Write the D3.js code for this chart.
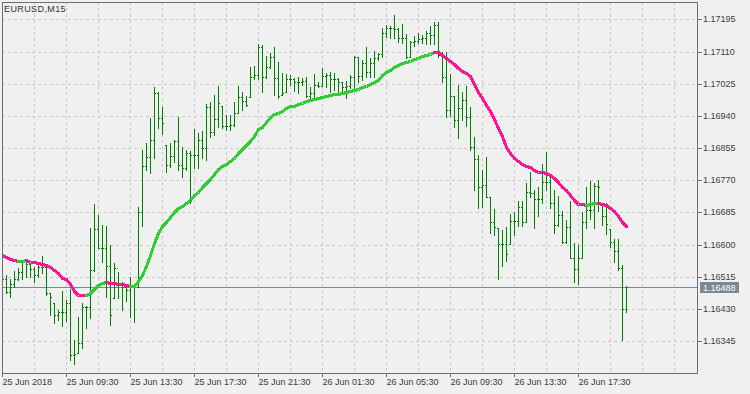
<!DOCTYPE html>
<html>
<head>
<meta charset="utf-8">
<script src="https://cdn.jsdelivr.net/npm/d3@7"></script>
<style>
  html, body { margin: 0; padding: 0; background: #f0f0f0; }
  svg { display: block; }
  text { font-family: "Liberation Sans", Arial, sans-serif; font-size: 9px; fill: #3c3c3c; }
</style>
</head>
<body>
<script>
// Chart title and axis labels
const symbolTitle = 'EURUSD,M15';
const timeLabels = ['25 Jun 2018', '25 Jun 09:30', '25 Jun 13:30', '25 Jun 17:30', '25 Jun 21:30',
  '26 Jun 01:30', '26 Jun 05:30', '26 Jun 09:30', '26 Jun 13:30', '26 Jun 17:30'];
const timeLabelBars = [0, 16, 32, 48, 64, 80, 96, 112, 128, 144];
const priceTicks = [1.17195, 1.17110, 1.17025, 1.16940, 1.16855, 1.16770, 1.16685, 1.16600, 1.16515, 1.16430, 1.16345];
const lastPrice = 1.16488;

// OHLC of the M15 bars, oldest first
const opens = [
  1.16517, 1.16509, 1.16475, 1.16496, 1.16509, 1.16527, 1.16557, 1.16549, 1.16535, 1.16521,
  1.16541, 1.16540, 1.16473, 1.16445, 1.16414, 1.16423, 1.16423, 1.16445, 1.16309, 1.16313,
  1.16340, 1.16436, 1.16436, 1.16533, 1.16641, 1.16592, 1.16592, 1.16544, 1.16459, 1.16539,
  1.16498, 1.16487, 1.16480, 1.16494, 1.16489, 1.16685, 1.16808, 1.16832, 1.16876, 1.17000,
  1.16934, 1.16863, 1.16810, 1.16835, 1.16874, 1.16810, 1.16802, 1.16841, 1.16837, 1.16837,
  1.16876, 1.16855, 1.16963, 1.16897, 1.16932, 1.16966, 1.16913, 1.16913, 1.16916, 1.16947,
  1.16991, 1.16979, 1.16991, 1.17042, 1.17048, 1.17121, 1.17042, 1.17068, 1.17095, 1.17039,
  1.16995, 1.17004, 1.17037, 1.17037, 1.17030, 1.17030, 1.17032, 1.16993, 1.17000, 1.17022,
  1.17020, 1.17046, 1.17048, 1.17037, 1.17037, 1.17029, 1.17015, 1.17020, 1.17043, 1.17096,
  1.17046, 1.17079, 1.17055, 1.17079, 1.17092, 1.17103, 1.17158, 1.17171, 1.17173, 1.17169,
  1.17145, 1.17145, 1.17096, 1.17136, 1.17138, 1.17142, 1.17145, 1.17160, 1.17154, 1.17180,
  1.17101, 1.17043, 1.16956, 1.16993, 1.16929, 1.16960, 1.16982, 1.16936, 1.16859, 1.16825,
  1.16753, 1.16758, 1.16725, 1.16661, 1.16643, 1.16602, 1.16602, 1.16602, 1.16663, 1.16663,
  1.16699, 1.16661, 1.16740, 1.16736, 1.16720, 1.16720, 1.16766, 1.16766, 1.16709, 1.16652,
  1.16678, 1.16608, 1.16646, 1.16564, 1.16535, 1.16564, 1.16661, 1.16692, 1.16692, 1.16755,
  1.16711, 1.16676, 1.16641, 1.16608, 1.16582, 1.16538, 1.16429
];
const highs = [
  1.16525, 1.16520, 1.16509, 1.16531, 1.16538, 1.16560, 1.16560, 1.16551, 1.16540, 1.16551,
  1.16570, 1.16540, 1.16473, 1.16445, 1.16428, 1.16478, 1.16454, 1.16482, 1.16348, 1.16410,
  1.16445, 1.16438, 1.16644, 1.16707, 1.16678, 1.16652, 1.16648, 1.16599, 1.16551, 1.16529,
  1.16501, 1.16489, 1.16515, 1.16494, 1.16700, 1.16850, 1.16868, 1.16934, 1.17016, 1.17004,
  1.16964, 1.16863, 1.16868, 1.16876, 1.16936, 1.16857, 1.16850, 1.16848, 1.16905, 1.16894,
  1.16900, 1.16971, 1.16977, 1.16995, 1.17019, 1.16966, 1.16942, 1.16942, 1.16977, 1.17019,
  1.17004, 1.16993, 1.17070, 1.17072, 1.17130, 1.17127, 1.17098, 1.17105, 1.17123, 1.17083,
  1.17052, 1.17051, 1.17048, 1.17039, 1.17043, 1.17039, 1.17042, 1.17017, 1.17050, 1.17030,
  1.17067, 1.17052, 1.17057, 1.17052, 1.17041, 1.17030, 1.17032, 1.17048, 1.17099, 1.17096,
  1.17088, 1.17123, 1.17092, 1.17111, 1.17105, 1.17173, 1.17180, 1.17178, 1.17206, 1.17173,
  1.17183, 1.17156, 1.17139, 1.17151, 1.17160, 1.17154, 1.17165, 1.17177, 1.17189, 1.17189,
  1.17110, 1.17110, 1.17051, 1.16993, 1.17022, 1.17004, 1.17019, 1.16964, 1.16885, 1.16837,
  1.16797, 1.16832, 1.16725, 1.16693, 1.16643, 1.16639, 1.16646, 1.16681, 1.16686, 1.16714,
  1.16714, 1.16764, 1.16793, 1.16744, 1.16753, 1.16813, 1.16844, 1.16784, 1.16744, 1.16729,
  1.16690, 1.16665, 1.16714, 1.16605, 1.16599, 1.16687, 1.16752, 1.16769, 1.16762, 1.16771,
  1.16711, 1.16709, 1.16641, 1.16614, 1.16614, 1.16546, 1.16491
];
const lows = [
  1.16499, 1.16472, 1.16461, 1.16487, 1.16507, 1.16509, 1.16515, 1.16515, 1.16502, 1.16515,
  1.16524, 1.16467, 1.16414, 1.16394, 1.16401, 1.16384, 1.16397, 1.16296, 1.16284, 1.16313,
  1.16327, 1.16379, 1.16406, 1.16531, 1.16591, 1.16555, 1.16463, 1.16388, 1.16459, 1.16459,
  1.16428, 1.16451, 1.16410, 1.16395, 1.16489, 1.16648, 1.16797, 1.16789, 1.16828, 1.16907,
  1.16892, 1.16793, 1.16806, 1.16819, 1.16797, 1.16778, 1.16797, 1.16711, 1.16802, 1.16802,
  1.16829, 1.16824, 1.16885, 1.16890, 1.16910, 1.16907, 1.16903, 1.16903, 1.16913, 1.16947,
  1.16956, 1.16966, 1.16991, 1.17037, 1.17037, 1.17004, 1.17039, 1.17066, 1.16995, 1.16986,
  1.16995, 1.17004, 1.17022, 1.17007, 1.17000, 1.17022, 1.16991, 1.16986, 1.16991, 1.17017,
  1.17020, 1.17017, 1.17002, 1.17008, 1.17002, 1.17002, 1.16988, 1.17013, 1.17013, 1.17030,
  1.17035, 1.17043, 1.17043, 1.17043, 1.17088, 1.17096, 1.17149, 1.17145, 1.17145, 1.17134,
  1.17132, 1.17094, 1.17096, 1.17125, 1.17133, 1.17132, 1.17130, 1.17130, 1.17130, 1.17096,
  1.17030, 1.16938, 1.16940, 1.16910, 1.16881, 1.16929, 1.16912, 1.16850, 1.16744, 1.16696,
  1.16700, 1.16725, 1.16630, 1.16626, 1.16509, 1.16544, 1.16558, 1.16602, 1.16626, 1.16649,
  1.16649, 1.16661, 1.16725, 1.16643, 1.16676, 1.16709, 1.16744, 1.16696, 1.16632, 1.16649,
  1.16604, 1.16604, 1.16564, 1.16502, 1.16496, 1.16564, 1.16643, 1.16667, 1.16643, 1.16690,
  1.16652, 1.16628, 1.16595, 1.16555, 1.16533, 1.16347, 1.16423
];
const closes = [
  1.16509, 1.16475, 1.16496, 1.16509, 1.16527, 1.16557, 1.16549, 1.16535, 1.16521, 1.16541,
  1.16540, 1.16473, 1.16461, 1.16414, 1.16423, 1.16423, 1.16445, 1.16309, 1.16311, 1.16340,
  1.16436, 1.16436, 1.16533, 1.16641, 1.16592, 1.16592, 1.16544, 1.16414, 1.16539, 1.16498,
  1.16487, 1.16480, 1.16494, 1.16492, 1.16685, 1.16808, 1.16832, 1.16876, 1.17000, 1.16934,
  1.16922, 1.16810, 1.16835, 1.16874, 1.16810, 1.16802, 1.16841, 1.16837, 1.16837, 1.16876,
  1.16855, 1.16963, 1.16897, 1.16932, 1.16973, 1.16913, 1.16913, 1.16916, 1.16947, 1.16991,
  1.16979, 1.16969, 1.17042, 1.17048, 1.17121, 1.17042, 1.17068, 1.17095, 1.17039, 1.16993,
  1.17001, 1.17037, 1.17037, 1.17030, 1.17030, 1.17032, 1.16993, 1.17000, 1.17022, 1.17020,
  1.17046, 1.17048, 1.17037, 1.17037, 1.17029, 1.17015, 1.17020, 1.17043, 1.17096, 1.17046,
  1.17079, 1.17055, 1.17079, 1.17092, 1.17103, 1.17158, 1.17171, 1.17173, 1.17169, 1.17145,
  1.17145, 1.17096, 1.17136, 1.17138, 1.17142, 1.17145, 1.17160, 1.17154, 1.17180, 1.17101,
  1.17043, 1.16956, 1.16993, 1.16929, 1.16960, 1.16982, 1.16936, 1.16859, 1.16825, 1.16753,
  1.16758, 1.16725, 1.16661, 1.16646, 1.16602, 1.16602, 1.16575, 1.16663, 1.16663, 1.16699,
  1.16661, 1.16740, 1.16736, 1.16720, 1.16720, 1.16766, 1.16766, 1.16709, 1.16652, 1.16678,
  1.16608, 1.16646, 1.16564, 1.16535, 1.16564, 1.16661, 1.16692, 1.16692, 1.16755, 1.16753,
  1.16676, 1.16655, 1.16608, 1.16582, 1.16538, 1.16429, 1.16488
];

// Moving average line (green while rising, pink while falling)
const maValues = [
  1.16572, 1.16568, 1.16563, 1.16559, 1.16557, 1.16558, 1.16559, 1.16554, 1.16553, 1.16552,
  1.16550, 1.16545, 1.16540, 1.16532, 1.16524, 1.16511, 1.16509, 1.16495, 1.16478, 1.16468,
  1.16467, 1.16466, 1.16472, 1.16484, 1.16493, 1.16498, 1.16500, 1.16499, 1.16498, 1.16497,
  1.16495, 1.16493, 1.16490, 1.16491, 1.16503, 1.16521, 1.16544, 1.16573, 1.16605, 1.16631,
  1.16650, 1.16661, 1.16672, 1.16685, 1.16696, 1.16703, 1.16710, 1.16719, 1.16730, 1.16740,
  1.16751, 1.16764, 1.16772, 1.16787, 1.16800, 1.16808, 1.16813, 1.16821, 1.16828, 1.16841,
  1.16853, 1.16863, 1.16874, 1.16888, 1.16905, 1.16911, 1.16924, 1.16936, 1.16944, 1.16948,
  1.16954, 1.16960, 1.16965, 1.16967, 1.16972, 1.16975, 1.16978, 1.16981, 1.16984, 1.16987,
  1.16990, 1.16993, 1.16996, 1.16997, 1.16999, 1.17001, 1.17003, 1.17006, 1.17009, 1.17012,
  1.17015, 1.17020, 1.17024, 1.17030, 1.17036, 1.17047, 1.17055, 1.17062, 1.17070, 1.17075,
  1.17080, 1.17082, 1.17085, 1.17089, 1.17093, 1.17097, 1.17100, 1.17103, 1.17109, 1.17108,
  1.17102, 1.17092, 1.17084, 1.17076, 1.17066, 1.17059, 1.17054, 1.17044, 1.17024, 1.17004,
  1.16987, 1.16970, 1.16952, 1.16931, 1.16908, 1.16888, 1.16859, 1.16843, 1.16830, 1.16821,
  1.16814, 1.16808, 1.16804, 1.16797, 1.16793, 1.16791, 1.16789, 1.16785, 1.16775, 1.16765,
  1.16753, 1.16743, 1.16732, 1.16717, 1.16708, 1.16706, 1.16705, 1.16706, 1.16710, 1.16711,
  1.16708, 1.16705, 1.16698, 1.16688, 1.16675, 1.16661, 1.16649
];

// Layout
const width = 750, height = 394;
const plot = { left: 2, right: 697, top: 2, bottom: 373 };
const barStep = 4; // pixels per M15 bar
const colors = {
  bar: '#008000', maUp: '#32cd32', maDown: '#ff1493',
  grid: '#c8c8c8', frame: '#6e6e6e', priceLine: '#778899'
};

const svg = d3.select('body').append('svg')
  .attr('width', width)
  .attr('height', height);

// Scales (rounded so 1px marks stay crisp)
const xScale = d3.scaleLinear()
  .domain([0, (plot.right - plot.left) / barStep])
  .rangeRound([plot.left, plot.right]);

const yScale = d3.scaleLinear()
  .domain([1.17246, 1.16261])
  .rangeRound([0, 373]);

svg.append('clipPath').attr('id', 'plot-clip')
  .append('rect')
  .attr('x', plot.left).attr('y', plot.top)
  .attr('width', plot.right - plot.left + 1)
  .attr('height', plot.bottom - plot.top + 1);

// Grid
const grid = svg.append('g').attr('stroke', colors.grid).attr('stroke-dasharray', '3,3');
grid.selectAll('line.h').data(priceTicks).join('line')
  .attr('class', 'h')
  .attr('x1', plot.left).attr('x2', plot.right)
  .attr('y1', d => yScale(d) + 0.5).attr('y2', d => yScale(d) + 0.5);
grid.selectAll('line.v').data(d3.range(8, xScale.domain()[1], 8)).join('line')
  .attr('class', 'v')
  .attr('x1', d => xScale(d) + 0.5).attr('x2', d => xScale(d) + 0.5)
  .attr('y1', plot.top).attr('y2', plot.bottom);

// Last price line
svg.append('line')
  .attr('x1', plot.left).attr('x2', plot.right)
  .attr('y1', yScale(lastPrice) + 0.5).attr('y2', yScale(lastPrice) + 0.5)
  .attr('stroke', colors.priceLine);

// Bars: vertical high-low, open tick left, close tick right
const bars = svg.append('g')
  .attr('clip-path', 'url(#plot-clip)')
  .attr('fill', colors.bar);

const barData = closes.map((c, i) => ({ i, o: opens[i], h: highs[i], l: lows[i], c }));

const barG = bars.selectAll('g').data(barData).join('g');
barG.append('rect')
  .attr('x', d => xScale(d.i))
  .attr('y', d => yScale(d.h))
  .attr('width', 1)
  .attr('height', d => yScale(d.l) - yScale(d.h) + 1);
barG.append('rect')
  .attr('x', d => xScale(d.i) - 1)
  .attr('y', d => yScale(d.o))
  .attr('width', 1).attr('height', 1);
barG.append('rect')
  .attr('x', d => xScale(d.i) + 1)
  .attr('y', d => yScale(d.c))
  .attr('width', 1).attr('height', 1);

// Moving average, split into runs by direction
const runs = [];
maValues.forEach((v, i) => {
  if (i === 0) return;
  const up = v > maValues[i - 1];
  const last = runs[runs.length - 1];
  if (last && last.up === up) {
    last.pts.push({ i, v });
  } else {
    runs.push({ up, pts: [{ i: i - 1, v: maValues[i - 1] }, { i, v }] });
  }
});

const maLine = d3.line()
  .x(d => xScale(d.i) + 0.5)
  .y(d => yScale(d.v) + 0.5);

svg.append('g')
  .attr('clip-path', 'url(#plot-clip)')
  .selectAll('path').data(runs).join('path')
  .attr('d', d => maLine(d.pts))
  .attr('fill', 'none')
  .attr('stroke', d => d.up ? colors.maUp : colors.maDown)
  .attr('stroke-width', 3)
  .attr('stroke-linejoin', 'round')
  .attr('stroke-linecap', 'round')
  .attr('shape-rendering', 'crispEdges');

// Frame
svg.append('rect')
  .attr('x', plot.left + 0.5).attr('y', plot.top + 0.5)
  .attr('width', plot.right - plot.left)
  .attr('height', plot.bottom - plot.top)
  .attr('fill', 'none')
  .attr('stroke', colors.frame);

// Right price axis
const yAxis = d3.axisRight(yScale)
  .tickValues(priceTicks)
  .tickFormat(d3.format('.5f'))
  .tickSize(5)
  .tickPadding(1);
const yAxisG = svg.append('g')
  .attr('transform', `translate(${plot.right},0)`)
  .call(yAxis);
yAxisG.select('.domain').remove();
yAxisG.selectAll('line').attr('stroke', colors.frame);
yAxisG.selectAll('text').attr('fill', '#3c3c3c').style('font-size', '9px')
  .style('font-family', '"Liberation Sans", Arial, sans-serif');

// Bottom time axis
const xAxis = d3.axisBottom(xScale)
  .tickValues(timeLabelBars)
  .tickFormat((d, i) => timeLabels[i])
  .tickSize(4)
  .tickPadding(2);
const xAxisG = svg.append('g')
  .attr('transform', `translate(0,${plot.bottom})`)
  .call(xAxis);
xAxisG.select('.domain').remove();
xAxisG.selectAll('line').attr('stroke', colors.frame);
xAxisG.selectAll('text')
  .attr('text-anchor', 'start')
  .attr('x', 0)
  .attr('fill', '#3c3c3c').style('font-size', '9px')
  .style('font-family', '"Liberation Sans", Arial, sans-serif');

// Last price tag
const tagY = yScale(lastPrice);
svg.append('rect')
  .attr('x', 700).attr('y', tagY - 5)
  .attr('width', 39).attr('height', 11)
  .attr('fill', colors.priceLine);
svg.append('text')
  .attr('x', 703).attr('y', tagY + 4)
  .style('fill', '#ffffff')
  .text(d3.format('.5f')(lastPrice));

// Title
svg.append('text')
  .attr('x', 4).attr('y', 12)
  .style('fill', '#333333')
  .style('letter-spacing', '0.4px')
  .text(symbolTitle);
</script>
</body>
</html>
